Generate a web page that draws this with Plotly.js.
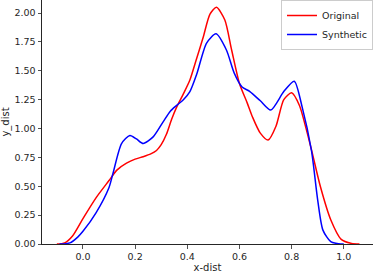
<!DOCTYPE html>
<html>
<head>
<meta charset="utf-8">
<script src="https://cdn.plot.ly/plotly-3.0.1.min.js"></script>
<style>html,body{margin:0;padding:0;background:#fff;}#chart{width:373px;height:274px;}</style>
</head>
<body>
<div id="chart"></div>
<script>
var origX = [-0.10, -0.07, -0.04, 0.00, 0.05, 0.10, 0.13, 0.167, 0.20, 0.231, 0.26, 0.282, 0.30, 0.32, 0.34, 0.36, 0.385, 0.41, 0.435, 0.461, 0.487, 0.512, 0.544, 0.57, 0.60, 0.63, 0.65, 0.68, 0.71, 0.74, 0.77, 0.80, 0.83, 0.86, 0.88, 0.91, 0.95, 0.99, 1.03, 1.06];
var origY = [0.00, 0.01, 0.07, 0.22, 0.40, 0.55, 0.64, 0.70, 0.735, 0.756, 0.78, 0.81, 0.86, 0.95, 1.08, 1.19, 1.30, 1.42, 1.60, 1.79, 1.99, 2.05, 1.94, 1.68, 1.39, 1.22, 1.10, 0.96, 0.90, 1.02, 1.25, 1.31, 1.20, 0.96, 0.78, 0.50, 0.21, 0.04, 0.005, 0.00];
var synX = [-0.09, -0.05, -0.02, 0.00, 0.05, 0.10, 0.115, 0.148, 0.18, 0.205, 0.231, 0.27, 0.308, 0.335, 0.359, 0.385, 0.41, 0.436, 0.474, 0.51, 0.55, 0.58, 0.61, 0.64, 0.68, 0.72, 0.77, 0.81, 0.84, 0.876, 0.90, 0.92, 0.95, 0.98, 1.00];
var synY = [0.00, 0.01, 0.06, 0.11, 0.27, 0.49, 0.61, 0.87, 0.94, 0.91, 0.87, 0.93, 1.06, 1.15, 1.20, 1.25, 1.32, 1.47, 1.74, 1.82, 1.68, 1.48, 1.36, 1.32, 1.24, 1.16, 1.32, 1.41, 1.19, 0.81, 0.38, 0.12, 0.02, 0.002, 0.00];
var seriesNames = ["Original", "Synthetic"];
var xLabel = "x-dist";
var yLabel = "y_dist";

var font = {family: "DejaVu Sans", size: 9.5, color: "#262626"};
var traces = [
  {x: origX, y: origY, name: seriesNames[0], mode: "lines", line: {color: "#ff0000", width: 1.5, shape: "spline", smoothing: 0.7}},
  {x: synX, y: synY, name: seriesNames[1], mode: "lines", line: {color: "#0000ff", width: 1.5, shape: "spline", smoothing: 0.7}}
];
var layout = {
  width: 373, height: 274,
  margin: {l: 42, r: 0, t: 0, b: 30},
  paper_bgcolor: "#fff", plot_bgcolor: "#fff",
  font: font,
  showlegend: true,
  legend: {x: 1, xanchor: "right", y: 1, yanchor: "top", bgcolor: "rgba(255,255,255,0.8)", bordercolor: "#cccccc", borderwidth: 1, font: {family: "DejaVu Sans", size: 9.5, color: "#262626"}, tracegroupgap: 0, itemwidth: 30},
  xaxis: {range: [-0.157, 1.112], tickmode: "linear", tick0: 0, dtick: 0.2, tickformat: ".1f", showgrid: false, zeroline: false, showline: true, linecolor: "#262626", linewidth: 1, ticks: "outside", ticklen: 3.5, tickwidth: 0.8, tickcolor: "#262626", title: {text: xLabel, font: {family: "DejaVu Sans", size: 10, color: "#262626"}, standoff: 3}},
  yaxis: {range: [0, 2.113], tickmode: "linear", tick0: 0, dtick: 0.25, tickformat: ".2f", showgrid: false, zeroline: false, showline: true, linecolor: "#262626", linewidth: 1, ticks: "outside", ticklen: 3.5, tickwidth: 0.8, tickcolor: "#262626", title: {text: yLabel, font: {family: "DejaVu Sans", size: 10, color: "#262626"}, standoff: 4}}
};
Plotly.newPlot("chart", traces, layout, {displayModeBar: false, staticPlot: true});
</script>
</body>
</html>
